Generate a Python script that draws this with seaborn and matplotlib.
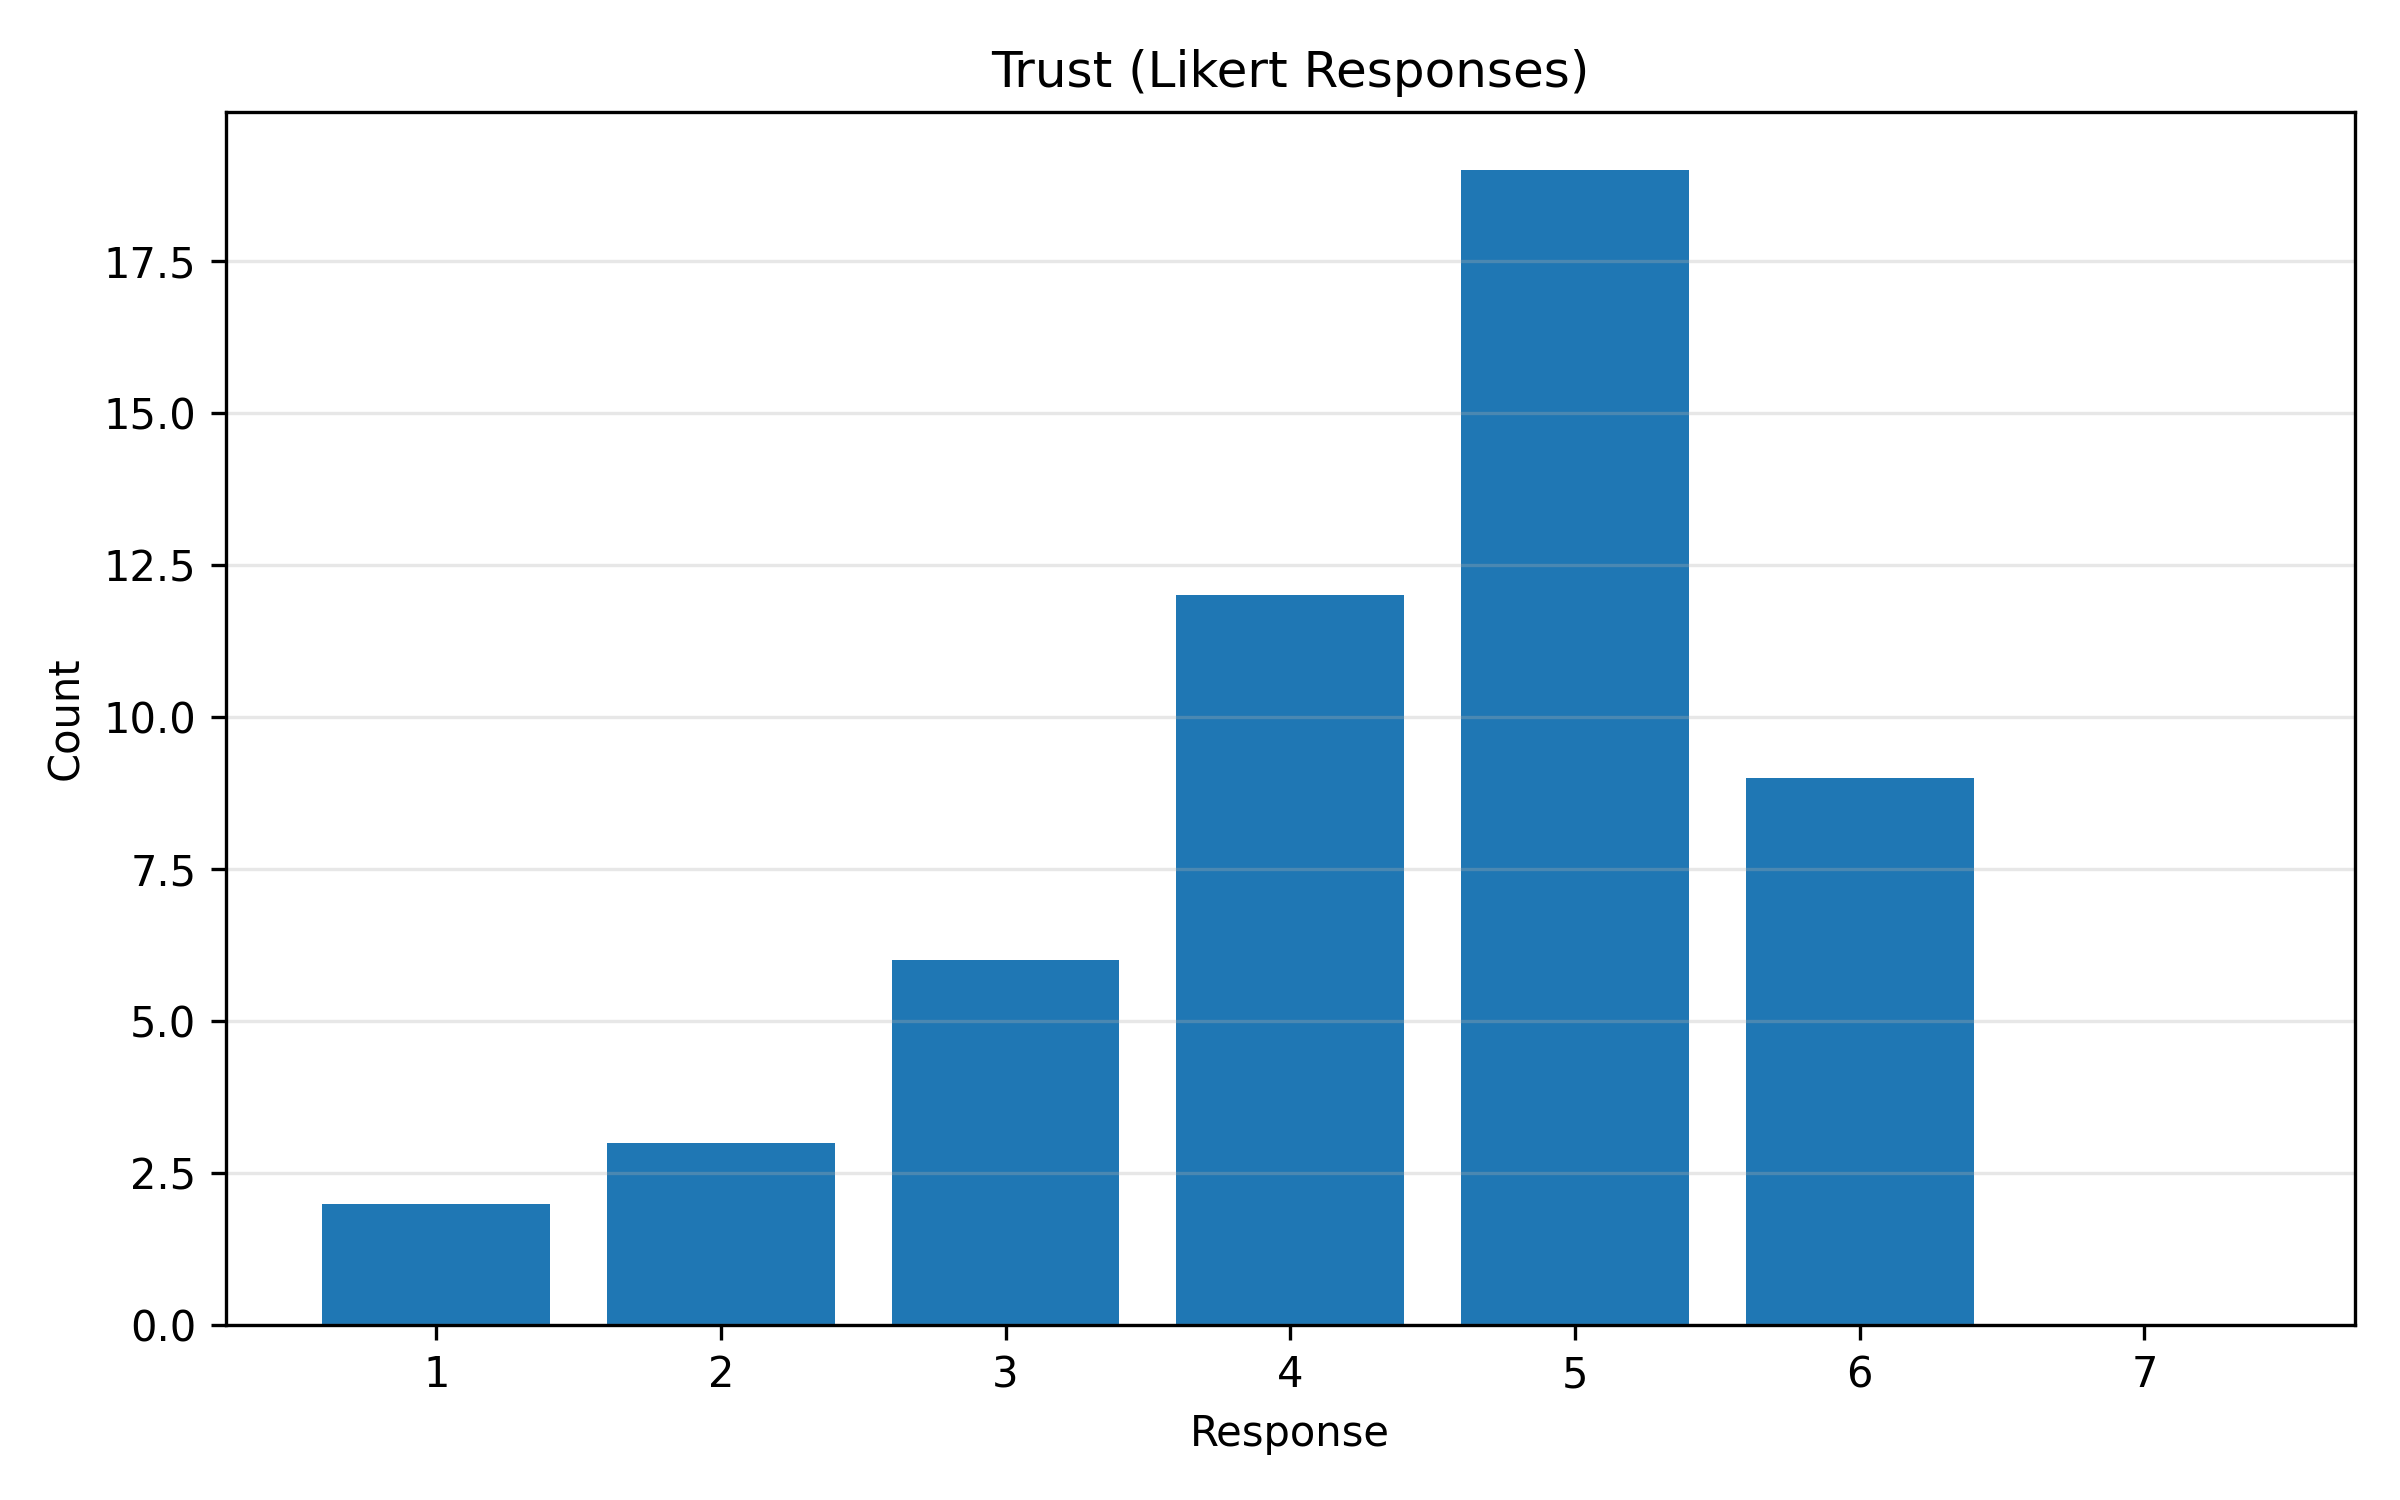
import pandas as pd
import seaborn as sns
import matplotlib.pyplot as plt

# ================= data ================= #
responses = [1, 2, 3, 4, 5, 6, 7]
counts = [2, 3, 6, 12, 19, 9, 0]

df = pd.DataFrame({"Response": responses, "Count": counts})

# ================= plot ================= #
plt.rcParams["font.family"] = ["DejaVu Sans"]
fig, ax = plt.subplots(figsize=(8, 5), dpi=300)

sns.barplot(data=df, x="Response", y="Count", native_scale=True,
            color="#1f77b4", saturation=1, width=0.8, ax=ax)

ax.set_xlim(0.26, 7.74)
ax.set_ylim(0, 19.95)
ax.set_xticks(responses)
ax.set_title("Trust (Likert Responses)")
ax.set_xlabel("Response")
ax.set_ylabel("Count")
ax.grid(axis="y", alpha=0.3)

fig.tight_layout()
fig.subplots_adjust(top=0.9255)
fig.savefig("out.png", dpi=300)
